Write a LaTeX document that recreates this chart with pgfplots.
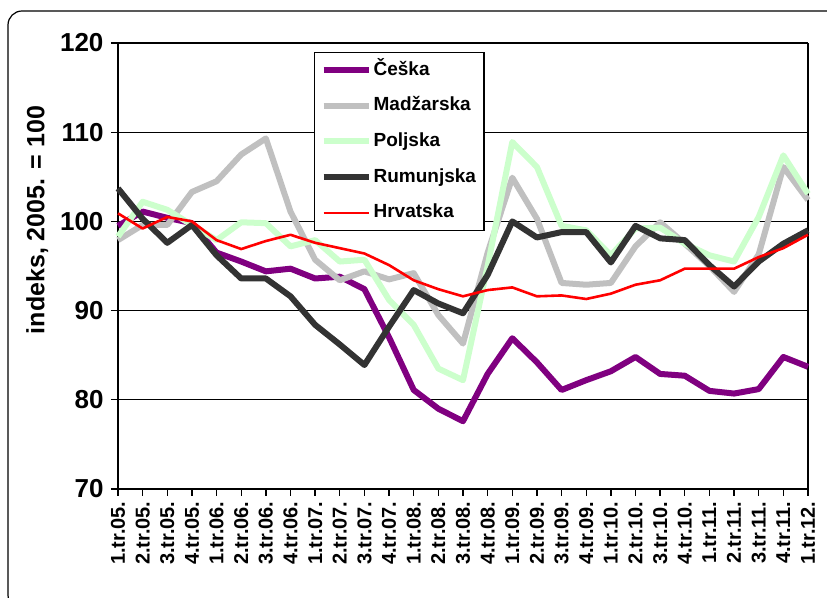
\documentclass[border=0pt]{standalone}
\usepackage{pgfplots}
\pgfplotsset{compat=1.18}
\usepackage{fontspec}
\setmainfont{Liberation Sans}
\definecolor{cz}{HTML}{800080}
\definecolor{hu}{HTML}{C0C0C0}
\definecolor{pl}{HTML}{CCFFCC}
\definecolor{ro}{HTML}{333333}
\definecolor{hr}{HTML}{FF0000}
\begin{document}
\begin{tikzpicture}[x=1pt,y=1pt]
\path[use as bounding box] (0,0) rectangle (827,597);
\draw[line width=1.2pt, rounded corners=14pt] (8,-12) rectangle (845,586);
\begin{axis}[
  at={(118pt,108pt)}, anchor=south west,
  scale only axis, width=690pt, height=446pt,
  xmin=0, xmax=28, ymin=70, ymax=120,
  clip=false,
  axis x line*=bottom, axis y line*=left,
  axis line style={line width=2.2pt, black, -},
  ytick={70,80,90,100,110,120},
  xtick={0,...,28},
  xticklabels={1.tr.05.,2.tr.05.,3.tr.05.,4.tr.05.,1.tr.06.,2.tr.06.,3.tr.06.,4.tr.06.,1.tr.07.,2.tr.07.,3.tr.07.,4.tr.07.,1.tr.08.,2.tr.08.,3.tr.08.,4.tr.08.,1.tr.09.,2.tr.09.,3.tr.09.,4.tr.09.,1.tr.10.,2.tr.10.,3.tr.10.,4.tr.10.,1.tr.11.,2.tr.11.,3.tr.11.,4.tr.11.,1.tr.12.},
  extra x ticks={28}, extra x tick labels={},
  extra x tick style={grid=major, major grid style={black, line width=1.2pt}},
  ymajorgrids, major grid style={black, line width=1.3pt},
  tick align=outside, major tick length=7pt,
  tick style={black, line width=1.3pt},
  /pgf/number format/assume math mode=true,
  yticklabel style={font=\fontsize{26}{29}\selectfont\bfseries, anchor=east, xshift=-4pt},
  xticklabel style={font=\fontsize{20}{24}\selectfont\bfseries, rotate=90, anchor=east, yshift=0pt, xshift=-2pt},
  ylabel={indeks, 2005. = 100},
  every axis y label/.style={at={(axis description cs:-0.117,0.603)}, rotate=90, anchor=center, font=\fontsize{25}{28}\selectfont\bfseries},
  legend cell align=left,
  legend image code/.code={\draw[#1] (0pt,0pt) -- (45pt,0pt);},
  legend style={at={(0.284,0.980)}, anchor=north west, draw=black, line width=1.3pt, fill=white,
    font=\fontsize{19}{22}\selectfont\bfseries, inner xsep=6pt, inner ysep=8.5pt, row sep=17.7pt,
    nodes={inner xsep=2pt, inner ysep=0pt, text height=14pt, text depth=4pt}},
]
\addplot[cz, line width=6pt, line join=round] coordinates {
(0,99.5)(1,101.1)(2,100.4)(3,99.8)(4,96.5)(5,95.5)(6,94.4)(7,94.7)(8,93.6)(9,93.8)(10,92.4)(11,87.0)(12,81.1)(13,79.0)(14,77.6)(15,82.9)(16,86.9)(17,84.2)(18,81.1)(19,82.2)(20,83.2)(21,84.8)(22,82.9)(23,82.7)(24,81.0)(25,80.7)(26,81.2)(27,84.8)(28,83.7)};
\addlegendentry{Češka}
\addplot[hu, line width=6pt, line join=round] coordinates {
(0,97.9)(1,99.6)(2,99.6)(3,103.3)(4,104.5)(5,107.5)(6,109.3)(7,101.1)(8,95.7)(9,93.4)(10,94.4)(11,93.5)(12,94.2)(13,89.5)(14,86.3)(15,96.5)(16,104.9)(17,100.3)(18,93.1)(19,92.9)(20,93.1)(21,97.2)(22,99.9)(23,97.5)(24,95.0)(25,92.1)(26,96.3)(27,106.1)(28,102.4)};
\addlegendentry{Madžarska}
\addplot[pl, line width=6pt, line join=round] coordinates {
(0,98.3)(1,102.2)(2,101.3)(3,99.6)(4,97.9)(5,99.9)(6,99.8)(7,97.2)(8,97.9)(9,95.5)(10,95.7)(11,91.2)(12,88.4)(13,83.5)(14,82.2)(15,95.0)(16,108.9)(17,106.1)(18,99.5)(19,99.0)(20,96.2)(21,99.2)(22,99.3)(23,97.5)(24,96.2)(25,95.5)(26,100.5)(27,107.4)(28,103.1)};
\addlegendentry{Poljska}
\addplot[ro, line width=6pt, line join=round] coordinates {
(0,103.7)(1,100.3)(2,97.6)(3,99.6)(4,96.2)(5,93.6)(6,93.6)(7,91.6)(8,88.4)(9,86.2)(10,83.9)(11,88.2)(12,92.3)(13,90.8)(14,89.7)(15,94.0)(16,100.0)(17,98.2)(18,98.8)(19,98.8)(20,95.4)(21,99.5)(22,98.1)(23,97.9)(24,95.1)(25,92.7)(26,95.5)(27,97.5)(28,99.0)};
\addlegendentry{Rumunjska}
\addplot[hr, line width=2.6pt, line join=round] coordinates {
(0,100.9)(1,99.2)(2,100.5)(3,100.0)(4,97.9)(5,96.9)(6,97.8)(7,98.5)(8,97.6)(9,97.0)(10,96.4)(11,95.1)(12,93.4)(13,92.4)(14,91.6)(15,92.3)(16,92.6)(17,91.6)(18,91.7)(19,91.3)(20,91.9)(21,92.9)(22,93.4)(23,94.7)(24,94.7)(25,94.7)(26,96.0)(27,97.0)(28,98.5)};
\addlegendentry{Hrvatska}
\end{axis}
\end{tikzpicture}
\end{document}
